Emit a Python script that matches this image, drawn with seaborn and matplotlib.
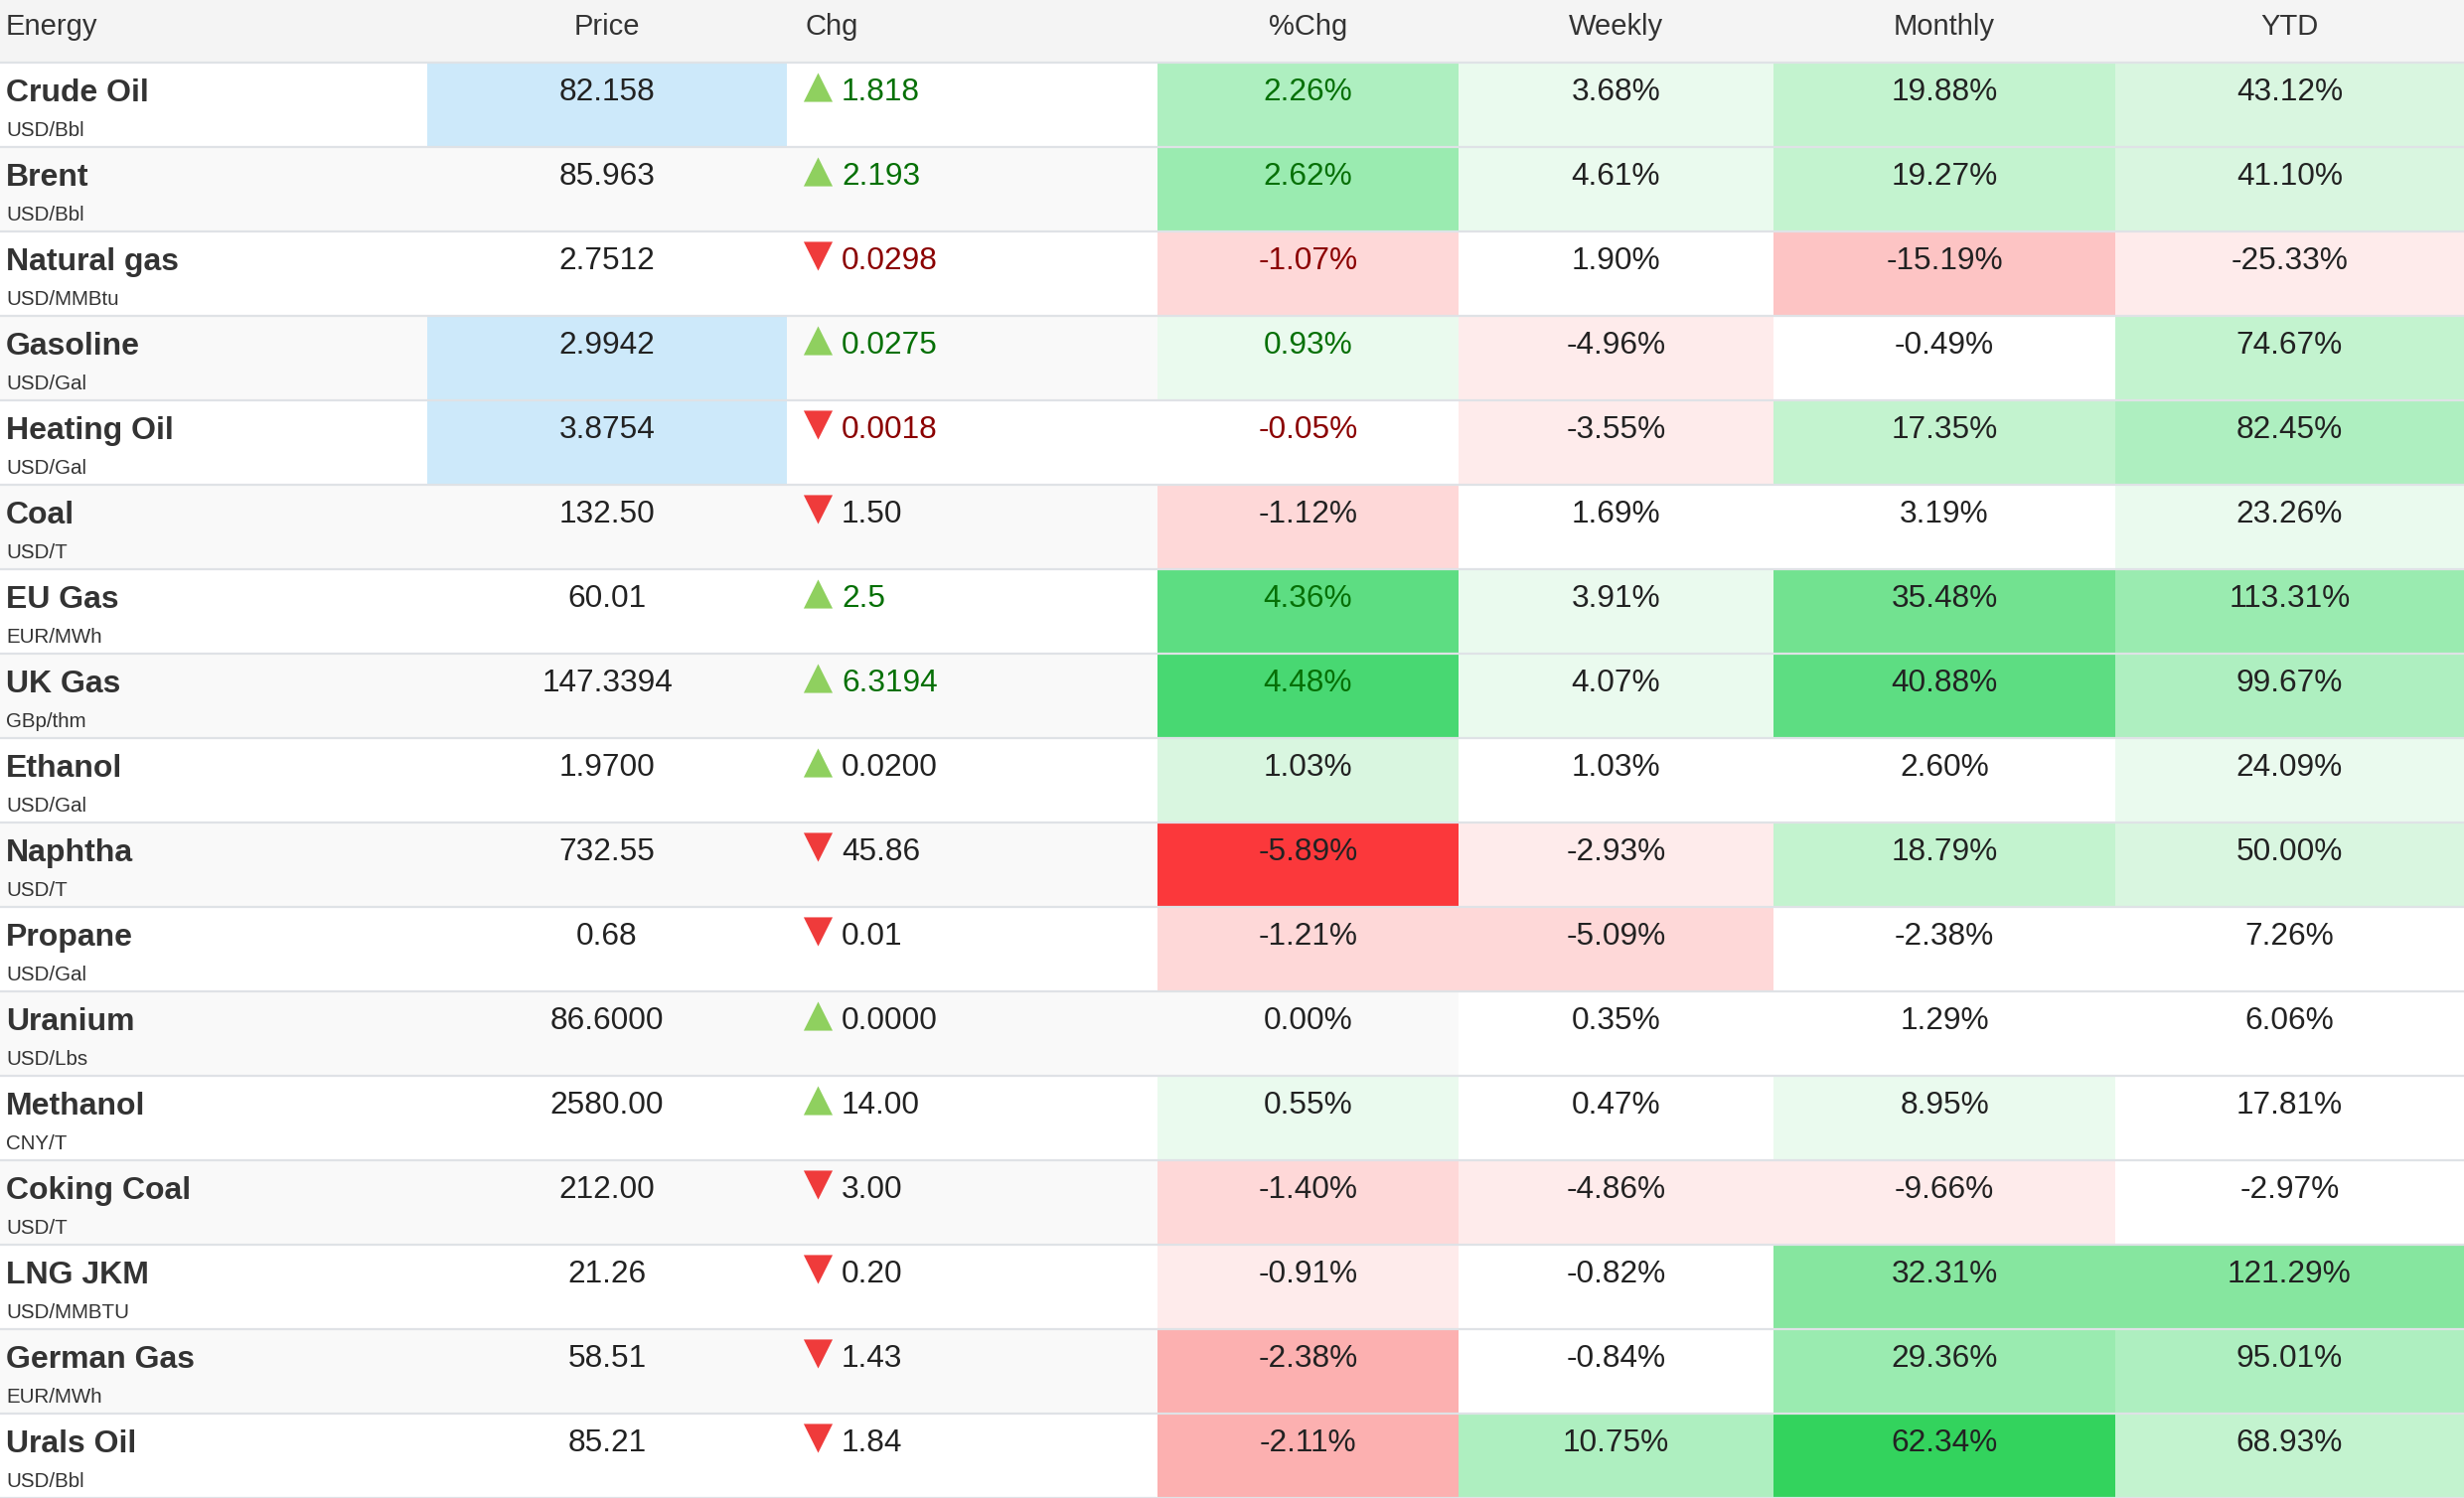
import numpy as np
import pandas as pd
import matplotlib
matplotlib.use("Agg")
import matplotlib.pyplot as plt
from matplotlib.colors import ListedColormap
import seaborn as sns

# -------------------------------
# 1. TABLE DATA
# -------------------------------
names = ["Crude Oil", "Brent", "Natural gas", "Gasoline", "Heating Oil", "Coal", "EU Gas",
         "UK Gas", "Ethanol", "Naphtha", "Propane", "Uranium", "Methanol", "Coking Coal",
         "LNG JKM", "German Gas", "Urals Oil"]
units = ["USD/Bbl", "USD/Bbl", "USD/MMBtu", "USD/Gal", "USD/Gal", "USD/T", "EUR/MWh",
         "GBp/thm", "USD/Gal", "USD/T", "USD/Gal", "USD/Lbs", "CNY/T", "USD/T",
         "USD/MMBTU", "EUR/MWh", "USD/Bbl"]
price = ["82.158", "85.963", "2.7512", "2.9942", "3.8754", "132.50", "60.01", "147.3394",
         "1.9700", "732.55", "0.68", "86.6000", "2580.00", "212.00", "21.26", "58.51", "85.21"]
chg = ["+1.818", "+2.193", "-0.0298", "+0.0275", "-0.0018", "-1.50", "+2.5", "+6.3194",
       "+0.0200", "-45.86", "-0.01", "+0.0000", "+14.00", "-3.00", "-0.20", "-1.43", "-1.84"]
pct_chg = [2.26, 2.62, -1.07, 0.93, -0.05, -1.12, 4.36, 4.48, 1.03, -5.89, -1.21, 0.00,
           0.55, -1.40, -0.91, -2.38, -2.11]
weekly = [3.68, 4.61, 1.90, -4.96, -3.55, 1.69, 3.91, 4.07, 1.03, -2.93, -5.09, 0.35,
          0.47, -4.86, -0.82, -0.84, 10.75]
monthly = [19.88, 19.27, -15.19, -0.49, 17.35, 3.19, 35.48, 40.88, 2.60, 18.79, -2.38,
           1.29, 8.95, -9.66, 32.31, 29.36, 62.34]
ytd = [43.12, 41.10, -25.33, 74.67, 82.45, 23.26, 113.31, 99.67, 24.09, 50.00, 7.26,
       6.06, 17.81, -2.97, 121.29, 95.01, 68.93]
# rows whose price just ticked (blue cell) and rows shown with live green/red change text
price_flash = [0, 3, 4]
live_rows = [0, 1, 2, 3, 4, 6, 7]

# heat step per column (one shade per step, capped at 10)
heat_cols = [("%Chg", pct_chg, 0.49), ("Weekly", weekly, 2.5),
             ("Monthly", monthly, 5.0), ("YTD", ytd, 20.0)]

# -------------------------------
# 2. LAYOUT (pixels)
# -------------------------------
W, H = 2480, 1508
HEAD_H = 62
ROW_H = 85
n = len(names)
col_edges = [0, 430, 792, 1165, 1468, 1785, 2129, 2480]

greens = ["#eafaee", "#d9f6e0", "#c3f3cf", "#aeefc0", "#9aebb0",
          "#86e69f", "#72e290", "#5ddd82", "#48d872", "#33d35d"]
reds = ["#feebeb", "#fed8d8", "#fdc4c4", "#fcb0b0", "#fb9c9c",
        "#fa8686", "#f97070", "#f95a5a", "#fa4848", "#fb383b"]
heat_cmap = ListedColormap(reds[::-1] + ["#ffffff"] + greens)

sns.set_theme(style="white")
plt.rcParams["font.family"] = ["Liberation Sans", "DejaVu Sans"]

fig = plt.figure(figsize=(W / 100, H / 100), dpi=100, facecolor="white")

# background: header, stripes, price flash
bg = fig.add_axes([0, 0, 1, 1], zorder=0)
bg.set_xlim(0, W)
bg.set_ylim(H, 0)
bg.axis("off")
row_top = HEAD_H + ROW_H * np.arange(n)
bg.barh(HEAD_H / 2, W, left=0, height=HEAD_H, color="#f4f4f4", linewidth=0)
stripe = ["#ffffff" if i % 2 == 0 else "#f9f9f9" for i in range(n)]
bg.barh(row_top + ROW_H / 2, W, left=0, height=ROW_H, color=stripe, linewidth=0)
bg.barh(row_top[price_flash] + ROW_H / 2, col_edges[2] - col_edges[1], left=col_edges[1],
        height=ROW_H, color="#cde9fa", linewidth=0)

# heat columns drawn as seaborn heatmaps (exact zeros keep the row stripe)
for k, (label, vals, step) in enumerate(heat_cols):
    v = np.array(vals)
    lvl = np.sign(v) * np.minimum(np.floor(np.abs(v) / step + 1e-9), 10)
    df = pd.DataFrame({label: lvl})
    x0, x1 = col_edges[3 + k], col_edges[4 + k]
    hax = fig.add_axes([x0 / W, 1 - (HEAD_H + n * ROW_H) / H, (x1 - x0) / W, n * ROW_H / H],
                       zorder=1)
    sns.heatmap(df, ax=hax, cmap=heat_cmap, vmin=-10.5, vmax=10.5,
                mask=pd.DataFrame({label: v == 0}),
                cbar=False, xticklabels=False, yticklabels=False, linewidths=0)
    hax.set_facecolor("none")
    hax.axis("off")

# overlay: separators, texts, arrows
ov = fig.add_axes([0, 0, 1, 1], zorder=2)
ov.patch.set_alpha(0)

for i in range(n + 1):
    ov.axhline(HEAD_H + 1 + ROW_H * i, color="#dfe2e6", linewidth=1.6)

centers = [(a + b) / 2 for a, b in zip(col_edges[:-1], col_edges[1:])]
hdr = dict(fontsize=21, color="#333333", va="baseline")
ov.text(6, 35, "Energy", ha="left", **hdr)
ov.text(centers[1], 35, "Price", ha="center", **hdr)
ov.text(810, 35, "Chg", ha="left", **hdr)
for k, (label, _, _) in enumerate(heat_cols):
    ov.text(centers[3 + k], 35, label, ha="center", **hdr)

UP_TXT, DN_TXT, DARK = "#067006", "#8b0000", "#222222"
NUM_FS = 22.8
for i in range(n):
    top = row_top[i]
    ov.text(6, top + 40, names[i], fontsize=23, fontweight="bold", color="#333333",
            ha="left", va="baseline")
    ov.text(6, top + 75, units[i], fontsize=14.8, color="#333333", ha="left", va="baseline")
    ov.text(centers[1], top + 39, price[i], fontsize=NUM_FS, color=DARK,
            ha="center", va="baseline")
    up = not chg[i].startswith("-")
    live = i in live_rows
    c_col = (UP_TXT if up else DN_TXT) if live else DARK
    ov.text(847, top + 39, chg[i][1:], fontsize=NUM_FS, color=c_col, ha="left", va="baseline")
    for k, (label, vals, _) in enumerate(heat_cols):
        val = vals[i]
        if k == 0 and live:
            t_col = UP_TXT if val >= 0 else DN_TXT
        else:
            t_col = DARK
        ov.text(centers[3 + k], top + 39, f"{val:.2f}%", fontsize=NUM_FS, color=t_col,
                ha="center", va="baseline")

arrows = pd.DataFrame({
    "x": [823.5] * n,
    "y": row_top + 26,
    "dir": ["up" if not c.startswith("-") else "down" for c in chg],
})
sns.scatterplot(data=arrows, x="x", y="y", hue="dir", style="dir",
                markers={"up": "^", "down": "v"},
                palette={"up": "#8fd05f", "down": "#ef3b3b"},
                s=440, linewidth=0, legend=False, ax=ov)
ov.set_xlim(0, W)
ov.set_ylim(H, 0)
ov.axis("off")

fig.savefig("out.png", dpi=100, facecolor="white")
